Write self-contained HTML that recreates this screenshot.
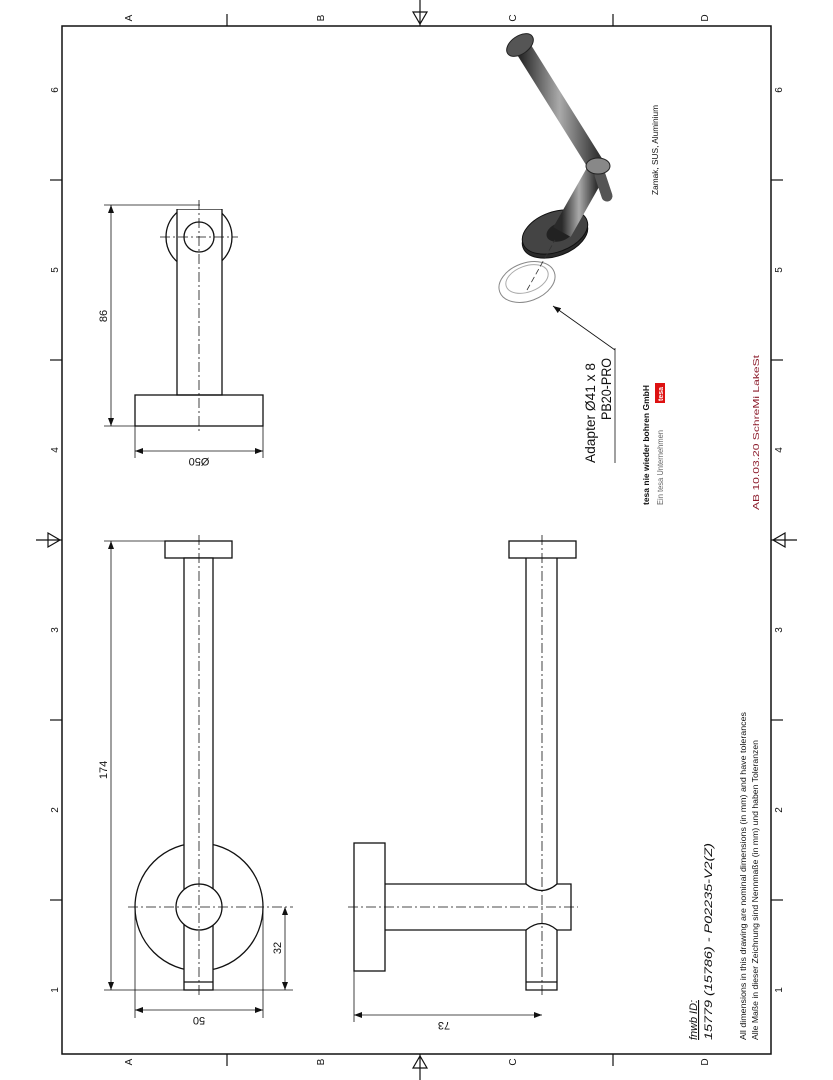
<!DOCTYPE html>
<html><head><meta charset="utf-8"><style>
html,body{margin:0;padding:0;background:#fff}
svg{display:block}
text{font-family:"Liberation Sans",sans-serif;fill:#111}
</style></head><body>
<svg width="833" height="1080" viewBox="0 0 833 1080" xmlns="http://www.w3.org/2000/svg">
<defs>
<marker id="a" markerWidth="8" markerHeight="6" refX="8" refY="3" orient="auto-start-reverse" markerUnits="userSpaceOnUse"><path d="M0,0 L8,3 L0,6 z" fill="#111"/></marker>
<linearGradient id="g" x1="0" y1="0" x2="1" y2="0"><stop offset="0" stop-color="#2a2a2a"/><stop offset=".5" stop-color="#aaa"/><stop offset="1" stop-color="#333"/></linearGradient>
</defs>
<g stroke="#111" fill="none">
<rect x="62" y="26" width="709" height="1028" stroke-width="1.5"/>
<g stroke-width="1.2">
<line x1="227" y1="14" x2="227" y2="26"/><line x1="613" y1="14" x2="613" y2="26"/>
<line x1="227" y1="1054" x2="227" y2="1066"/><line x1="613" y1="1054" x2="613" y2="1066"/>
<line x1="50" y1="180" x2="62" y2="180"/><line x1="50" y1="360" x2="62" y2="360"/><line x1="50" y1="720" x2="62" y2="720"/><line x1="50" y1="900" x2="62" y2="900"/>
<line x1="771" y1="180" x2="783" y2="180"/><line x1="771" y1="360" x2="783" y2="360"/><line x1="771" y1="720" x2="783" y2="720"/><line x1="771" y1="900" x2="783" y2="900"/>
<path d="M420,0 V26 M413,12 L420,24 L427,12 Z"/>
<path d="M420,1080 V1054 M413,1068 L420,1056 L427,1068 Z"/>
<path d="M36,540 H62 M48,533 L60,540 L48,547 Z"/>
<path d="M797,540 H771 M785,533 L773,540 L785,547 Z"/>
</g>
<!-- view 1 -->
<g stroke-width="1.3">
<circle cx="199" cy="237" r="33"/>
<rect x="177" y="209" width="45" height="186" fill="#fff"/>
<rect x="165" y="190" width="70" height="19" fill="#fff" stroke="none"/>
<circle cx="199" cy="237" r="15"/>
<rect x="135" y="395" width="128" height="31"/>
</g>
<g stroke-width=".8">
<line x1="199" y1="200" x2="199" y2="433" stroke-dasharray="10,3,2,3"/>
<line x1="160" y1="237" x2="238" y2="237" stroke-dasharray="10,3,2,3"/>
<line x1="104" y1="205" x2="200" y2="205"/><line x1="104" y1="426" x2="135" y2="426"/>
<line x1="111" y1="205" x2="111" y2="426" marker-start="url(#a)" marker-end="url(#a)"/>
<line x1="135" y1="426" x2="135" y2="458"/><line x1="263" y1="426" x2="263" y2="458"/>
<line x1="135" y1="451" x2="263" y2="451" marker-start="url(#a)" marker-end="url(#a)"/>
</g>
<!-- view 2 -->
<g stroke-width="1.3">
<rect x="165" y="541" width="67" height="17"/>
<circle cx="199" cy="907" r="64"/>
<rect x="184" y="558" width="29" height="432" fill="#fff"/>
<line x1="184" y1="982" x2="213" y2="982"/>
<circle cx="199" cy="907" r="23" fill="#fff"/>
</g>
<g stroke-width=".8">
<line x1="199" y1="535" x2="199" y2="996" stroke-dasharray="10,3,2,3"/>
<line x1="128" y1="907" x2="293" y2="907" stroke-dasharray="10,3,2,3"/>
<line x1="104" y1="541" x2="165" y2="541"/><line x1="104" y1="990" x2="293" y2="990"/>
<line x1="111" y1="541" x2="111" y2="990" marker-start="url(#a)" marker-end="url(#a)"/>
<line x1="285" y1="907" x2="285" y2="990" marker-start="url(#a)" marker-end="url(#a)"/>
<line x1="135" y1="907" x2="135" y2="1018"/><line x1="263" y1="907" x2="263" y2="1018"/>
<line x1="135" y1="1010" x2="263" y2="1010" marker-start="url(#a)" marker-end="url(#a)"/>
</g>
<!-- view 3 -->
<g stroke-width="1.3">
<rect x="509" y="541" width="67" height="17"/>
<path d="M526,558 V884 M557,558 V884"/>
<path d="M526,930 V990 H557 V930 M526,982 H557"/>
<rect x="354" y="843" width="31" height="128"/>
<path d="M385,884 H526 Q542,897 557,884 H571 V930 H557 Q542,917 526,930 H385"/>
</g>
<g stroke-width=".8">
<line x1="542" y1="535" x2="542" y2="996" stroke-dasharray="10,3,2,3"/>
<line x1="348" y1="907" x2="578" y2="907" stroke-dasharray="10,3,2,3"/>
<line x1="354" y1="971" x2="354" y2="1022"/>
<line x1="354" y1="1015" x2="542" y2="1015" marker-start="url(#a)" marker-end="url(#a)"/>
</g>
<g stroke-width=".8">
<line x1="615" y1="348" x2="615" y2="463"/>
<line x1="615" y1="350" x2="553" y2="306" marker-end="url(#a)"/>
</g>
</g>
<!-- product image -->
<g>
<line x1="521" y1="45" x2="598" y2="168" stroke="url(#g)" stroke-width="17" stroke-linecap="round"/>
<ellipse cx="520" cy="45" rx="15" ry="9" transform="rotate(-35 520 45)" fill="#555" stroke="#222"/>
<ellipse cx="555" cy="236" rx="34" ry="20" transform="rotate(-20 555 236)" fill="#2a2a2a" stroke="#111"/>
<ellipse cx="555" cy="232" rx="34" ry="20" transform="rotate(-20 555 232)" fill="#444" stroke="#111"/>
<ellipse cx="560" cy="232" rx="14" ry="9" transform="rotate(-20 560 232)" fill="#222"/>
<line x1="562" y1="232" x2="596" y2="172" stroke="url(#g)" stroke-width="20"/>
<line x1="600" y1="175" x2="607" y2="196" stroke="#555" stroke-width="11" stroke-linecap="round"/>
<ellipse cx="598" cy="166" rx="12" ry="8" fill="#888" stroke="#222"/>
<ellipse cx="527" cy="282" rx="29" ry="19" transform="rotate(-20 527 282)" fill="#fff" stroke="#888"/>
<ellipse cx="527" cy="279" rx="22" ry="13" transform="rotate(-20 527 279)" fill="none" stroke="#aaa"/>
<line x1="527" y1="290" x2="555" y2="240" stroke="#333" stroke-width=".8" stroke-dasharray="6,3"/>
</g>
<g font-size="10" text-anchor="middle">
<text transform="translate(132,18) rotate(-90)">A</text><text transform="translate(324,18) rotate(-90)">B</text>
<text transform="translate(516,18) rotate(-90)">C</text><text transform="translate(708,18) rotate(-90)">D</text>
<text transform="translate(132,1062) rotate(-90)">A</text><text transform="translate(324,1062) rotate(-90)">B</text>
<text transform="translate(516,1062) rotate(-90)">C</text><text transform="translate(708,1062) rotate(-90)">D</text>
<text transform="translate(58,90) rotate(-90)">6</text><text transform="translate(58,270) rotate(-90)">5</text>
<text transform="translate(58,450) rotate(-90)">4</text><text transform="translate(58,630) rotate(-90)">3</text>
<text transform="translate(58,810) rotate(-90)">2</text><text transform="translate(58,990) rotate(-90)">1</text>
<text transform="translate(782,90) rotate(-90)">6</text><text transform="translate(782,270) rotate(-90)">5</text>
<text transform="translate(782,450) rotate(-90)">4</text><text transform="translate(782,630) rotate(-90)">3</text>
<text transform="translate(782,810) rotate(-90)">2</text><text transform="translate(782,990) rotate(-90)">1</text>
</g>
<g font-size="11" text-anchor="middle">
<text transform="translate(107,316) rotate(-90)">86</text>
<text transform="translate(199,458) rotate(180)">Ø50</text>
<text transform="translate(107,770) rotate(-90)">174</text>
<text transform="translate(281,948) rotate(-90)">32</text>
<text transform="translate(199,1017) rotate(180)">50</text>
<text transform="translate(444,1022) rotate(180)">73</text>
</g>
<g>
<text font-size="14" textLength="100" lengthAdjust="spacingAndGlyphs" transform="translate(595,463) rotate(-90)">Adapter Ø41 x 8</text>
<text font-size="14" textLength="62" lengthAdjust="spacingAndGlyphs" transform="translate(611,420) rotate(-90)">PB20-PRO</text>
<text font-size="8.5" font-weight="bold" textLength="120" lengthAdjust="spacingAndGlyphs" transform="translate(649,505) rotate(-90)">tesa nie wieder bohren GmbH</text>
<text font-size="8.5" style="fill:#666" textLength="75" lengthAdjust="spacingAndGlyphs" transform="translate(663,505) rotate(-90)">Ein tesa Unternehmen</text>
<rect x="655" y="383" width="10" height="20" fill="#d11"/>
<text font-size="7" font-weight="bold" style="fill:#fff" transform="translate(663,401) rotate(-90)">tesa</text>
<text font-size="8.5" textLength="90" lengthAdjust="spacingAndGlyphs" transform="translate(658,195) rotate(-90)">Zamak, SUS, Aluminium</text>
<text font-size="8.5" style="fill:#8b1a2a" textLength="155" lengthAdjust="spacingAndGlyphs" transform="translate(759,510) rotate(-90)">AB  10.03.20  SchreMi  LakeSt</text>
<text font-size="11" font-style="italic" text-decoration="underline" textLength="40" lengthAdjust="spacingAndGlyphs" transform="translate(697,1040) rotate(-90)">fnwb ID:</text>
<text font-size="11" font-style="italic" textLength="197" lengthAdjust="spacingAndGlyphs" transform="translate(712,1040) rotate(-90)">15779  (15786)  -  P02235-V2(Z)</text>
<text font-size="8.5" textLength="328" lengthAdjust="spacingAndGlyphs" transform="translate(746,1040) rotate(-90)">All dimensions in this drawing are nominal dimensions (in mm) and have tolerances</text>
<text font-size="8.5" textLength="300" lengthAdjust="spacingAndGlyphs" transform="translate(758,1040) rotate(-90)">Alle Maße in dieser Zeichnung sind Nennmaße (in mm) und haben Toleranzen</text>
</g>
</svg>
</body></html>
